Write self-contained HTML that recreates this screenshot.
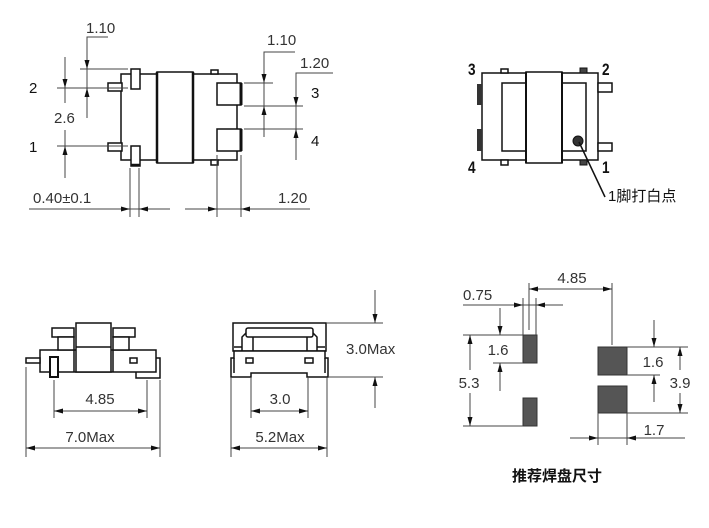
<!DOCTYPE html>
<html><head><meta charset="utf-8"><style>
html,body{margin:0;padding:0;background:#fff;}
svg{display:block;}
.d{stroke:#111;stroke-width:1.5;fill:#fff;}
.dn{stroke:#111;stroke-width:1.5;fill:none;}
.m{stroke:#444;stroke-width:1;fill:none;}
.a{fill:#111;stroke:none;}
.t{font-family:"Liberation Sans",sans-serif;font-size:15px;fill:#333;}
.p{font-family:"Liberation Sans",sans-serif;font-size:15px;fill:#111;}
.n{font-family:"Liberation Sans",sans-serif;font-size:17px;font-weight:bold;fill:#111;}
.c{font-family:"Liberation Sans","Noto Sans CJK SC",sans-serif;font-size:15px;fill:#111;}
</style></head><body>
<svg width="709" height="528" viewBox="0 0 709 528" xmlns="http://www.w3.org/2000/svg">
<!-- ===== Top-left view ===== -->
<rect class="d" x="121" y="74" width="36" height="86"/>
<rect class="d" x="193" y="74" width="44" height="86"/>
<rect class="d" x="157" y="72" width="36" height="91"/>
<line x1="157" y1="72" x2="157" y2="163" stroke="#111" stroke-width="2.5"/>
<line x1="193" y1="72" x2="193" y2="163" stroke="#111" stroke-width="2.5"/>
<rect class="d" x="131" y="69" width="9" height="20"/>
<rect class="d" x="131" y="146" width="9" height="20"/>
<line x1="131" y1="165" x2="140" y2="165" stroke="#111" stroke-width="2.5"/>
<rect class="d" x="108" y="83" width="14" height="8"/>
<rect class="d" x="108" y="143" width="14" height="8"/>
<rect class="d" x="211" y="70" width="7" height="4"/>
<rect class="d" x="211" y="160" width="7" height="5"/>
<rect class="d" x="217" y="83" width="24" height="22"/>
<rect class="d" x="217" y="129" width="24" height="22"/>
<line x1="241" y1="83" x2="241" y2="105" stroke="#111" stroke-width="3"/>
<line x1="241" y1="129" x2="241" y2="151" stroke="#111" stroke-width="3"/>

<!-- dims top-left -->
<line class="m" x1="80" y1="69" x2="128" y2="69"/>
<line class="m" x1="57" y1="88" x2="128" y2="88"/>
<line class="m" x1="57" y1="146" x2="128" y2="146"/>
<polyline class="m" points="108,37 87,37 87,118"/>
<line class="m" x1="65" y1="57" x2="65" y2="103"/>
<line class="m" x1="65" y1="130" x2="65" y2="178"/>
<polygon class="a" points="87,69 84.5,60 89.5,60"/>
<polygon class="a" points="87,88 84.5,97 89.5,97"/>
<polygon class="a" points="65,88 62.5,79 67.5,79"/>
<polygon class="a" points="65,146 62.5,155 67.5,155"/>
<text class="t" x="86" y="33">1.10</text>
<text class="t" x="54" y="123">2.6</text>
<text class="p" x="29" y="93">2</text>
<text class="p" x="29" y="152">1</text>

<line class="m" x1="29" y1="209" x2="170" y2="209"/>
<line class="m" x1="185" y1="209" x2="310" y2="209"/>
<line class="m" x1="130" y1="168" x2="130" y2="217"/>
<line class="m" x1="139" y1="168" x2="139" y2="217"/>
<line class="m" x1="217" y1="155" x2="217" y2="217"/>
<line class="m" x1="241" y1="155" x2="241" y2="217"/>
<polygon class="a" points="130,209 121,206.5 121,211.5"/>
<polygon class="a" points="139,209 148,206.5 148,211.5"/>
<polygon class="a" points="217,209 208,206.5 208,211.5"/>
<polygon class="a" points="241,209 250,206.5 250,211.5"/>
<text class="t" x="33" y="203">0.40±0.1</text>
<text class="t" x="278" y="203">1.20</text>

<line class="m" x1="244" y1="83" x2="273" y2="83"/>
<line class="m" x1="244" y1="106" x2="303" y2="106"/>
<line class="m" x1="244" y1="129" x2="303" y2="129"/>
<polyline class="m" points="295,52 264,52 264,137"/>
<polyline class="m" points="333,73 296,73 296,160"/>
<polygon class="a" points="264,83 261.5,74 266.5,74"/>
<polygon class="a" points="264,106 261.5,115 266.5,115"/>
<polygon class="a" points="296,106 293.5,97 298.5,97"/>
<polygon class="a" points="296,129 293.5,138 298.5,138"/>
<text class="t" x="267" y="45">1.10</text>
<text class="t" x="300" y="68">1.20</text>
<text class="p" x="311" y="98">3</text>
<text class="p" x="311" y="146">4</text>

<!-- ===== Top-right view ===== -->
<rect class="d" x="482" y="73" width="44" height="87"/>
<rect class="d" x="562" y="73" width="36" height="87"/>
<rect class="d" x="526" y="72" width="36" height="91"/>
<line x1="526" y1="72" x2="526" y2="163" stroke="#111" stroke-width="2"/>
<line x1="562" y1="72" x2="562" y2="163" stroke="#111" stroke-width="2"/>
<rect class="dn" x="502" y="83" width="24" height="68"/>
<rect class="dn" x="562" y="83" width="24" height="68"/>
<rect x="477" y="84" width="5" height="21" fill="#333"/>
<rect x="477" y="129" width="5" height="22" fill="#333"/>
<rect class="d" x="501" y="69" width="7" height="4"/>
<rect class="d" x="501" y="160" width="7" height="5"/>
<rect x="580" y="68" width="7" height="5" fill="#444" stroke="#111"/>
<rect x="580" y="160" width="7" height="5" fill="#444" stroke="#111"/>
<rect class="d" x="598" y="83" width="14" height="9"/>
<rect class="d" x="598" y="143" width="14" height="8"/>
<circle cx="578" cy="141" r="5" fill="#333" stroke="#111"/>
<line x1="579" y1="142" x2="605" y2="197" stroke="#111" stroke-width="1.5"/>
<text class="c" x="608" y="201">1脚打白点</text>
<text class="n" x="468" y="75" transform="translate(468 0) scale(0.8 1) translate(-468 0)">3</text>
<text class="n" x="602" y="75" transform="translate(602 0) scale(0.8 1) translate(-602 0)">2</text>
<text class="n" x="468" y="173" transform="translate(468 0) scale(0.8 1) translate(-468 0)">4</text>
<text class="n" x="602" y="173" transform="translate(602 0) scale(0.8 1) translate(-602 0)">1</text>

<!-- ===== Bottom-left view ===== -->
<rect class="d" x="40" y="350" width="116" height="22"/>
<rect class="d" x="76" y="323" width="35" height="49"/>
<line class="dn" x1="76" y1="347" x2="111" y2="347"/>
<rect class="d" x="52" y="328" width="22" height="9"/>
<rect class="d" x="58" y="337" width="16" height="13"/>
<rect class="d" x="113" y="328" width="22" height="9"/>
<rect class="d" x="113" y="337" width="16" height="13"/>
<line class="dn" x1="74" y1="350" x2="74" y2="372"/>
<line class="dn" x1="113" y1="350" x2="113" y2="372"/>
<rect class="d" x="26" y="358" width="14" height="5"/>
<rect x="50" y="357" width="8" height="20" fill="#fff" stroke="#111" stroke-width="2"/>
<rect class="d" x="130" y="358" width="7" height="5"/>
<polyline class="dn" points="156,358 160,358 160,378 136,378 136,372"/>

<line class="m" x1="54" y1="380" x2="54" y2="418"/>
<line class="m" x1="147" y1="380" x2="147" y2="418"/>
<line class="m" x1="54" y1="411" x2="147" y2="411"/>
<polygon class="a" points="54,411 63,408.5 63,413.5"/>
<polygon class="a" points="147,411 138,408.5 138,413.5"/>
<text class="t" x="100" y="404" text-anchor="middle">4.85</text>
<line class="m" x1="26" y1="367" x2="26" y2="457"/>
<line class="m" x1="160" y1="380" x2="160" y2="457"/>
<line class="m" x1="26" y1="448" x2="160" y2="448"/>
<polygon class="a" points="26,448 35,445.5 35,450.5"/>
<polygon class="a" points="160,448 151,445.5 151,450.5"/>
<text class="t" x="90" y="442" text-anchor="middle" font-size="16">7.0Max</text>

<!-- ===== Bottom-middle view ===== -->
<rect class="d" x="233" y="323" width="93" height="28"/>
<rect class="dn" x="246" y="328" width="67" height="9" rx="2"/>
<polyline class="dn" points="242,351 242,337 246,333"/>
<polyline class="dn" points="317,351 317,337 313,333"/>
<line class="dn" x1="253" y1="337" x2="253" y2="351"/>
<line class="dn" x1="307" y1="337" x2="307" y2="351"/>
<line class="dn" x1="234" y1="347" x2="242" y2="347"/>
<line class="dn" x1="317" y1="347" x2="325" y2="347"/>
<path class="d" d="M234,351 L325,351 L325,358 L328,358 L328,377 L307,377 L307,373 L251,373 L251,377 L231,377 L231,358 L234,358 Z"/>
<line class="dn" x1="234" y1="358" x2="234" y2="373"/>
<line class="dn" x1="325" y1="358" x2="325" y2="373"/>
<rect class="d" x="246" y="358" width="7" height="5"/>
<rect class="d" x="305" y="358" width="8" height="5"/>

<line class="m" x1="326" y1="323" x2="383" y2="323"/>
<line class="m" x1="328" y1="377" x2="383" y2="377"/>
<line class="m" x1="375" y1="290" x2="375" y2="323"/>
<line class="m" x1="375" y1="377" x2="375" y2="408"/>
<polygon class="a" points="375,323 372.5,314 377.5,314"/>
<polygon class="a" points="375,377 372.5,386 377.5,386"/>
<text class="t" x="346" y="354" font-size="16">3.0Max</text>
<line class="m" x1="251" y1="377" x2="251" y2="418"/>
<line class="m" x1="308" y1="377" x2="308" y2="418"/>
<line class="m" x1="251" y1="411" x2="308" y2="411"/>
<polygon class="a" points="251,411 260,408.5 260,413.5"/>
<polygon class="a" points="308,411 299,408.5 299,413.5"/>
<text class="t" x="280" y="404" text-anchor="middle">3.0</text>
<line class="m" x1="231" y1="377" x2="231" y2="457"/>
<line class="m" x1="327" y1="377" x2="327" y2="457"/>
<line class="m" x1="231" y1="448" x2="327" y2="448"/>
<polygon class="a" points="231,448 240,445.5 240,450.5"/>
<polygon class="a" points="327,448 318,445.5 318,450.5"/>
<text class="t" x="280" y="442" text-anchor="middle" font-size="16">5.2Max</text>

<!-- ===== Bottom-right: pads ===== -->
<rect x="523" y="335" width="14" height="28" fill="#555" stroke="#333"/>
<rect x="523" y="398" width="14" height="28" fill="#555" stroke="#333"/>
<rect x="598" y="347" width="29" height="28" fill="#555" stroke="#333"/>
<rect x="598" y="386" width="29" height="27" fill="#555" stroke="#333"/>

<line class="m" x1="529" y1="283" x2="529" y2="330"/>
<line class="m" x1="612" y1="283" x2="612" y2="345"/>
<line class="m" x1="529" y1="289" x2="612" y2="289"/>
<polygon class="a" points="529,289 538,286.5 538,291.5"/>
<polygon class="a" points="612,289 603,286.5 603,291.5"/>
<text class="t" x="572" y="283" text-anchor="middle">4.85</text>

<line class="m" x1="523" y1="298" x2="523" y2="335"/>
<line class="m" x1="536" y1="298" x2="536" y2="335"/>
<line class="m" x1="463" y1="305" x2="563" y2="305"/>
<polygon class="a" points="523,305 514,302.5 514,307.5"/>
<polygon class="a" points="536,305 545,302.5 545,307.5"/>
<text class="t" x="463" y="300">0.75</text>

<line class="m" x1="463" y1="335" x2="523" y2="335"/>
<line class="m" x1="493" y1="363" x2="523" y2="363"/>
<line class="m" x1="463" y1="426" x2="523" y2="426"/>
<line class="m" x1="500" y1="308" x2="500" y2="335"/>
<line class="m" x1="500" y1="363" x2="500" y2="391"/>
<polygon class="a" points="500,335 497.5,326 502.5,326"/>
<polygon class="a" points="500,363 497.5,372 502.5,372"/>
<text class="t" x="498" y="355" text-anchor="middle">1.6</text>
<line class="m" x1="470" y1="335" x2="470" y2="370"/>
<line class="m" x1="470" y1="393" x2="470" y2="426"/>
<polygon class="a" points="470,335 467.5,344 472.5,344"/>
<polygon class="a" points="470,426 467.5,417 472.5,417"/>
<text class="t" x="469" y="388" text-anchor="middle">5.3</text>

<line class="m" x1="627" y1="347" x2="688" y2="347"/>
<line class="m" x1="627" y1="375" x2="660" y2="375"/>
<line class="m" x1="627" y1="413" x2="688" y2="413"/>
<line class="m" x1="654" y1="320" x2="654" y2="347"/>
<line class="m" x1="654" y1="375" x2="654" y2="402"/>
<polygon class="a" points="654,347 651.5,338 656.5,338"/>
<polygon class="a" points="654,375 651.5,384 656.5,384"/>
<text class="t" x="653" y="367" text-anchor="middle">1.6</text>
<line class="m" x1="680" y1="347" x2="680" y2="370"/>
<line class="m" x1="680" y1="393" x2="680" y2="413"/>
<polygon class="a" points="680,347 677.5,356 682.5,356"/>
<polygon class="a" points="680,413 677.5,404 682.5,404"/>
<text class="t" x="680" y="388" text-anchor="middle">3.9</text>

<line class="m" x1="598" y1="413" x2="598" y2="445"/>
<line class="m" x1="627" y1="413" x2="627" y2="445"/>
<line class="m" x1="570" y1="438" x2="685" y2="438"/>
<polygon class="a" points="598,438 589,435.5 589,440.5"/>
<polygon class="a" points="627,438 636,435.5 636,440.5"/>
<text class="t" x="654" y="435" text-anchor="middle">1.7</text>

<text class="c" x="557" y="481" text-anchor="middle" font-size="16" font-weight="bold">推荐焊盘尺寸</text>
</svg>
</body></html>
